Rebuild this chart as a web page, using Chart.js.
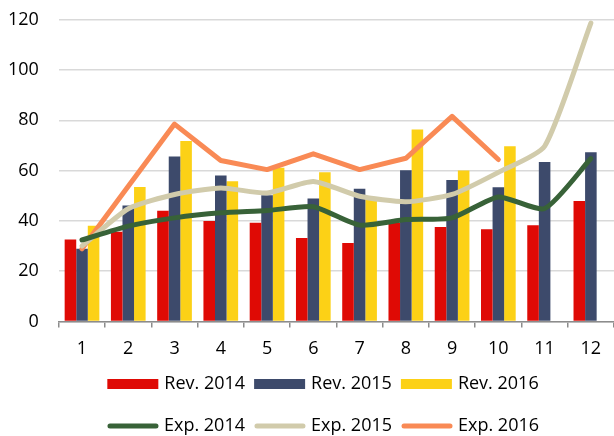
<!DOCTYPE html>
<html>
<head>
<meta charset="utf-8">
<script src="https://cdn.jsdelivr.net/npm/chart.js@4"></script>
<style>
  html, body { margin: 0; background: #fff; }
  #wrap { width: 614px; height: 436px; }
</style>
</head>
<body>
<div id="wrap"><canvas id="chart"></canvas></div>
<script>
const months = ['1', '2', '3', '4', '5', '6', '7', '8', '9', '10', '11', '12'];
const yTicks = [0, 20, 40, 60, 80, 100, 120];

// revenue bars
const rev2014 = [32.6, 35.7, 44.0, 39.9, 39.3, 33.2, 31.2, 39.2, 37.6, 36.7, 38.3, 47.9];
const rev2015 = [28.9, 46.1, 65.6, 58.1, 50.2, 48.9, 52.8, 60.1, 56.3, 53.4, 63.4, 67.3];
const rev2016 = [38.1, 53.5, 71.8, 55.8, 61.1, 59.3, 49.5, 76.4, 60.0, 69.7, null, null];

// expense lines
const exp2014 = [32.4, 37.9, 41.2, 43.2, 44.1, 45.6, 38.3, 40.5, 41.2, 49.5, 44.9, 64.8];
const exp2015 = [30.0, 44.8, 50.5, 53.1, 51.1, 55.7, 49.8, 47.6, 50.5, 59.3, 69.7, 118.7];
const exp2016 = [28.9, 53.8, 78.5, 64.0, 60.4, 66.7, 60.4, 64.9, 81.6, 64.4, null, null];

const FONT = '"Open Sans", sans-serif';

// Excel-style legend: bars on the first row, lines on the second
const rowLegend = {
  id: 'rowLegend',
  afterDraw(chart, args, opts) {
    const ctx = chart.ctx;
    const sets = chart.data.datasets;
    const rows = [sets.filter(d => d.type === 'bar'), sets.filter(d => d.type === 'line')];
    ctx.save();
    ctx.font = '18px ' + FONT;
    ctx.textBaseline = 'middle';
    rows.forEach((row, r) => {
      const y = opts.rowY[r];
      const widths = row.map(d => opts.boxW + opts.gap + ctx.measureText(d.label).width);
      const total = widths.reduce((a, b) => a + b, 0) + opts.spacing * (row.length - 1);
      let x = opts.centerX - total / 2;
      row.forEach((d, i) => {
        if (d.type === 'line') {
          ctx.strokeStyle = d.borderColor;
          ctx.lineWidth = 5;
          ctx.lineCap = 'round';
          ctx.beginPath();
          ctx.moveTo(x + 3, y);
          ctx.lineTo(x + opts.boxW - 2, y);
          ctx.stroke();
        } else {
          ctx.fillStyle = d.backgroundColor;
          ctx.fillRect(x, y - 5, opts.boxW, 10);
        }
        ctx.fillStyle = '#000';
        ctx.fillText(d.label, x + opts.boxW + opts.gap, y);
        x += widths[i] + opts.spacing;
      });
    });
    ctx.restore();
  }
};

const bar = (label, data, color) => ({
  type: 'bar', label, data, backgroundColor: color, order: 10,
  categoryPercentage: 0.75, barPercentage: 1
});
// lower order is drawn on top
const line = (label, data, color, tension, order) => ({
  type: 'line', label, data, borderColor: color, backgroundColor: color, order,
  borderWidth: 5, pointRadius: 0, tension, borderCapStyle: 'round', borderJoinStyle: 'round'
});

new Chart(document.getElementById('chart'), {
  data: {
    labels: months,
    datasets: [
      bar('Rev. 2014', rev2014, '#df0a05'),
      bar('Rev. 2015', rev2015, '#3d4a6b'),
      bar('Rev. 2016', rev2016, '#fcd116'),
      line('Exp. 2014', exp2014, '#386238', 0.2, 1),
      line('Exp. 2015', exp2015, '#d1cbab', 0.2, 2),
      line('Exp. 2016', exp2016, '#f98a55', 0, 3)
    ]
  },
  options: {
    responsive: true,
    maintainAspectRatio: false,
    animation: false,
    layout: { padding: { top: 0, left: -1, right: 0, bottom: 65 } },
    plugins: {
      legend: { display: false },
      tooltip: { enabled: false },
      rowLegend: { rowY: [384, 426], centerX: 323, boxW: 51, gap: 6, spacing: 9 }
    },
    scales: {
      x: {
        grid: { display: true, drawOnChartArea: false, tickLength: 6, color: '#8c8c8c', lineWidth: 1.5 },
        border: { color: '#8c8c8c', width: 1.5 },
        ticks: { color: '#000', font: { family: FONT, size: 18 }, padding: 11, maxRotation: 0 }
      },
      y: {
        min: 0,
        max: 120,
        afterBuildTicks: axis => { axis.ticks = yTicks.map(v => ({ value: v })); },
        // invisible tick marks keep the labels clear of the plot
        grid: { color: '#d9d9d9', lineWidth: 1.5, tickLength: 11, tickColor: 'rgba(0,0,0,0)' },
        border: { display: false },
        ticks: { color: '#000', font: { family: FONT, size: 18 }, padding: 9 }
      }
    }
  },
  plugins: [rowLegend]
});
</script>
</body>
</html>
